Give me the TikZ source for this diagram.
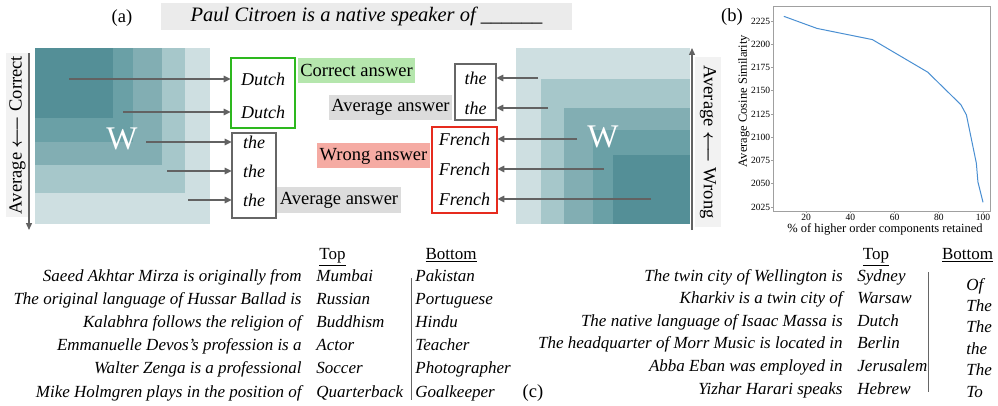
\documentclass[tikz,border=0pt]{standalone}
\usepackage{amsmath}
\usepackage{fontspec}
\setmainfont{Liberation Serif}
\usetikzlibrary{arrows.meta}

\definecolor{sqA}{HTML}{548F97}
\definecolor{sqB}{HTML}{6AA0A6}
\definecolor{sqC}{HTML}{82AEB3}
\definecolor{sqD}{HTML}{A6C7CA}
\definecolor{sqE}{HTML}{CEDFE1}
\definecolor{arrgray}{HTML}{626262}
\definecolor{goodline}{HTML}{2DB81E}
\definecolor{badline}{HTML}{E62B1E}
\definecolor{avgline}{HTML}{666666}
\definecolor{goodbg}{HTML}{B5E6AD}
\definecolor{badbg}{HTML}{F5ABA3}
\definecolor{avgbg}{HTML}{DCDCDC}
\definecolor{probebg}{HTML}{EBEBEB}
\definecolor{sidebg}{HTML}{F2F2F2}
\definecolor{framegray}{HTML}{A0A0A0}
\definecolor{curveblue}{HTML}{4A8FD2}

\tikzset{
  conn/.style={arrgray, line width=1.4pt, -{Triangle[length=7pt,width=6.5pt]}},
  sidearrow/.style={arrgray, line width=1.3pt, -{Triangle[length=7pt,width=6pt]}},
  word/.style={font=\fontsize{18}{20}\selectfont\itshape, inner sep=0pt},
  tag/.style={font=\fontsize{18.5}{20}\selectfont, inner xsep=2.5pt, inner ysep=0pt, minimum height=25pt},
  sidetag/.style={fill=sidebg, font=\fontsize{18.5}{20}\selectfont, inner sep=0pt},
  wmark/.style={white, font=\fontsize{33}{36}\selectfont},
  panel/.style={font=\fontsize{18.5}{20}\selectfont},
  prompt/.style={font=\fontsize{17}{19}\selectfont\itshape, anchor=base east, inner sep=0pt},
  pick/.style={font=\fontsize{17}{19}\selectfont\itshape, anchor=base west, inner sep=0pt},
  head/.style={font=\fontsize{17}{19}\selectfont, anchor=base, inner sep=0pt},
  ticklab/.style={font=\fontsize{9.5}{10}\selectfont, inner sep=0pt},
  axlab/.style={font=\fontsize{12.5}{14}\selectfont, inner sep=0pt},
}

\begin{document}
\begin{tikzpicture}[x=1pt, y=-1pt, line width=0.8pt]
\useasboundingbox (0,0) rectangle (998,406);

% (a) -- probe sentence
\node[panel] (pa) at (122,18) {(a)};
\node[fill=probebg, minimum width=411pt, minimum height=27pt, inner sep=0pt,
  font=\fontsize{20.5}{22}\selectfont\itshape] (probe) at (366.5,16.5) {Paul Citroen is a native speaker of \_\_\_\_\_\_};

% left weight block, correct part in the top-left corner
\fill[sqE] (35,48) rectangle (210,224);
\fill[sqD] (35,48) rectangle (185,193);
\fill[sqC] (35,48) rectangle (162,165);
\fill[sqB] (35,48) rectangle (133,142);
\fill[sqA] (35,48) rectangle (113,118);
\node[wmark] (wleft) at (122,139) {W};

\node[sidetag, rotate=90, minimum width=164pt, minimum height=23pt] (lside) at (17.5,135) {Average $\boldsymbol{\longleftarrow}$ Correct};
\coordinate (lsideA) at (29,53);
\coordinate (lsideB) at (29,230);
\draw[sidearrow] (lsideA) -- (lsideB);

% left outputs
\draw[goodline, line width=2pt] (231,58) rectangle (295,128);
\node[word, minimum width=64pt] (ld1) at (263,79) {Dutch};
\node[word, minimum width=64pt] (ld2) at (263,112) {Dutch};
\draw[avgline, line width=2pt] (232,133) rectangle (276,218);
\node[word, minimum width=44pt] (lt1) at (254,142) {the};
\node[word, minimum width=44pt] (lt2) at (254,171) {the};
\node[word, minimum width=44pt] (lt3) at (254,200) {the};

\coordinate (ls1) at (69,79);
\coordinate (ls2) at (123,112);
\coordinate (ls3) at (146,142);
\coordinate (ls4) at (167,171);
\coordinate (ls5) at (188,200);
\draw[conn] (ls1) -- (ld1.west);
\draw[conn] (ls2) -- (ld2.west);
\draw[conn] (ls3) -- (lt1.west);
\draw[conn] (ls4) -- (lt2.west);
\draw[conn] (ls5) -- (lt3.west);

% answer tags
\node[tag, fill=goodbg] (tcorrect) at (356.5,70.5) {Correct answer};
\node[tag, fill=avgbg] (tavgA) at (390.5,107.5) {Average answer};
\node[tag, fill=badbg] (twrong) at (373.5,156) {Wrong answer};
\node[tag, fill=avgbg] (tavgB) at (339,200) {Average answer};

% right outputs
\draw[avgline, line width=2pt] (455,64) rectangle (496,120);
\node[word, minimum width=41pt] (rt1) at (475.5,78) {the};
\node[word, minimum width=41pt] (rt2) at (475.5,108) {the};
\draw[badline, line width=2pt] (432,127) rectangle (497,213);
\node[word, minimum width=65pt] (rf1) at (464.5,139) {French};
\node[word, minimum width=65pt] (rf2) at (464.5,169) {French};
\node[word, minimum width=65pt] (rf3) at (464.5,199) {French};

% right weight block, wrong part in the bottom-right corner
\fill[sqE] (516,48) rectangle (690,224);
\fill[sqD] (541,79) rectangle (690,224);
\fill[sqC] (564,108) rectangle (690,224);
\fill[sqB] (593,130) rectangle (690,224);
\fill[sqA] (613,155) rectangle (690,224);
\node[wmark] (wright) at (603,137) {W};

\coordinate (rs1) at (538,78);
\coordinate (rs2) at (548,108);
\coordinate (rs3) at (577,139);
\coordinate (rs4) at (604,169);
\coordinate (rs5) at (651,199);
\draw[conn] (rs1) -- (rt1.east);
\draw[conn] (rs2) -- (rt2.east);
\draw[conn] (rs3) -- (rf1.east);
\draw[conn] (rs4) -- (rf2.east);
\draw[conn] (rs5) -- (rf3.east);

\node[sidetag, rotate=-90, minimum width=170pt, minimum height=26pt] (rside) at (708,142) {Average $\boldsymbol{\longleftarrow}$ Wrong};
\coordinate (rsideA) at (692,230);
\coordinate (rsideB) at (692,48);
\draw[sidearrow] (rsideA) -- (rsideB);

% (b) -- similarity plot
\node[panel] (pb) at (732,17) {(b)};
\draw[framegray] (773,6) rectangle (990,211);
\foreach \v in {2025,2050,...,2225} {
  \draw[framegray] (771,{21+(2225-\v)*0.93}) -- (773,{21+(2225-\v)*0.93});
  \node[ticklab, anchor=east] (yt\v) at (770.5,{21+(2225-\v)*0.93}) {\v};
}
\foreach \v in {20,40,...,100} {
  \draw[framegray] ({806+(\v-20)*2.2125},211) -- ({806+(\v-20)*2.2125},213);
  \node[ticklab, anchor=north] (xt\v) at ({806+(\v-20)*2.2125},213.5) {\v};
}
\node[axlab, rotate=90] (ylab) at (744,101) {Average Cosine Similarity};
\node[axlab, anchor=base] (xlab) at (885,233) {\% of higher order components retained};
\begin{scope}[shift={(761.75,230.25)}, x=2.2125pt, y=0.93pt]
\draw[curveblue, line width=1pt] (10,230) -- (25,217) -- (50,205) -- (75,170) -- (90,135)
  -- (92.5,124) -- (97,72) -- (97.7,52) -- (100,30);
\end{scope}

% (c) -- top and bottom predictions
\node[head] (lhtop) at (332.5,259) {\underline{Top}};
\node[head] (lhbot) at (451,259) {\underline{Bottom}};
\node[prompt] (lq1) at (302,281) {Saeed Akhtar Mirza is originally from};
\node[prompt] (lq2) at (302,304.2) {The original language of Hussar Ballad is};
\node[prompt] (lq3) at (302,327.4) {Kalabhra follows the religion of};
\node[prompt] (lq4) at (302,350.6) {Emmanuelle Devos's profession is a};
\node[prompt] (lq5) at (302,373.8) {Walter Zenga is a professional};
\node[prompt] (lq6) at (302,397) {Mike Holmgren plays in the position of};
\node[pick] (lp1) at (316,281) {Mumbai};
\node[pick] (lp2) at (316,304.2) {Russian};
\node[pick] (lp3) at (316,327.4) {Buddhism};
\node[pick] (lp4) at (316,350.6) {Actor};
\node[pick] (lp5) at (316,373.8) {Soccer};
\node[pick] (lp6) at (316,397) {Quarterback};
\node[pick] (lb1) at (415,281) {Pakistan};
\node[pick] (lb2) at (415,304.2) {Portuguese};
\node[pick] (lb3) at (415,327.4) {Hindu};
\node[pick] (lb4) at (415,350.6) {Teacher};
\node[pick] (lb5) at (415,373.8) {Photographer};
\node[pick] (lb6) at (415,397) {Goalkeeper};
\draw[avgline, line width=1pt] (411,278) -- (411,400);

\node[panel] (pc) at (533,393) {(c)};
\node[head] (rhtop) at (876,259) {\underline{Top}};
\node[head] (rhbot) at (967.5,259) {\underline{Bottom}};
\node[prompt] (rq1) at (843,281) {The twin city of Wellington is};
\node[prompt] (rq2) at (843,303.6) {Kharkiv is a twin city of};
\node[prompt] (rq3) at (843,326.2) {The native language of Isaac Massa is};
\node[prompt] (rq4) at (843,348.8) {The headquarter of Morr Music is located in};
\node[prompt] (rq5) at (843,371.4) {Abba Eban was employed in};
\node[prompt] (rq6) at (843,394) {Yizhar Harari speaks};
\node[pick] (rp1) at (857,281) {Sydney};
\node[pick] (rp2) at (857,303.6) {Warsaw};
\node[pick] (rp3) at (857,326.2) {Dutch};
\node[pick] (rp4) at (857,348.8) {Berlin};
\node[pick] (rp5) at (857,371.4) {Jerusalem};
\node[pick] (rp6) at (857,394) {Hebrew};
\node[pick] (rb1) at (966,290) {Of};
\node[pick] (rb2) at (966,311.4) {The};
\node[pick] (rb3) at (966,332.8) {The};
\node[pick] (rb4) at (966,354.2) {the};
\node[pick] (rb5) at (966,375.6) {The};
\node[pick] (rb6) at (966,397) {To};
\draw[avgline, line width=1pt] (928,272) -- (928,392);
\end{tikzpicture}
\end{document}
